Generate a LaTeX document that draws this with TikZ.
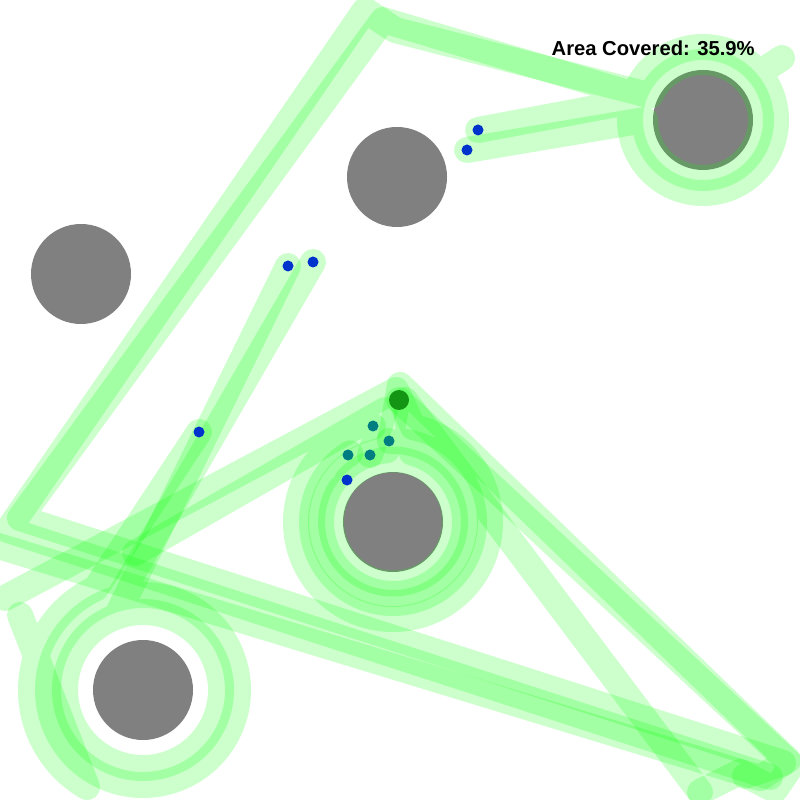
\documentclass[tikz,border=0pt]{standalone}
\usepackage{fontspec}
\setsansfont{Liberation Sans}
\usepackage{tikz}
\usetikzlibrary{calc}
\definecolor{trailgreen}{RGB}{0,255,0}
\definecolor{obstgray}{RGB}{128,128,128}
\definecolor{botblue}{RGB}{0,51,204}
\definecolor{botteal}{RGB}{0,125,128}
\definecolor{botgreen}{RGB}{20,150,20}

\begin{document}
\begin{tikzpicture}[x=0.1mm,y=-0.1mm]
\tikzstyle{trail}=[line width=2.6mm, draw=trailgreen, draw opacity=0.2, line cap=round, line join=round]
\tikzstyle{obst}=[fill=obstgray]
\tikzstyle{bot}=[fill=botblue]
\tikzstyle{botb}=[fill=botteal]
\tikzstyle{lead}=[fill=botgreen]
\tikzstyle{label}=[anchor=base west, inner sep=0, font=\sffamily\bfseries\fontsize{5.75}{7}\selectfont]

  \clip (0,0) rectangle (800,800);
  \fill[white] (0,0) rectangle (800,800);

  % obstacles
  \coordinate (o1) at (81,274);
  \coordinate (o2) at (397,177);
  \coordinate (o3) at (703,120);
  \coordinate (o4) at (393,522);
  \coordinate (o5) at (143,690);
  \foreach \o in {o1,o2,o3,o4,o5}
    \fill[obst] (\o) circle[radius=50];

  % robots
  \coordinate (r1)  at (478,130);
  \coordinate (r2)  at (467,150);
  \coordinate (r3)  at (288,266);
  \coordinate (r4)  at (313,262);
  \coordinate (r5)  at (199,432);
  \coordinate (r6)  at (399,400);
  \coordinate (r7)  at (373,426);
  \coordinate (r8)  at (389,441);
  \coordinate (r9)  at (348,455);
  \coordinate (r10) at (370,455);
  \coordinate (r11) at (347,480);

  % trails
  \draw[trail] (745,776) -- (783,763) -- (20,518) -- (383,20)
               -- ($(o3)+(200:73)$) arc[start angle=200, end angle=320, radius=73]
               -- (782,58) -- ($(o3)+(320:73)$) arc[start angle=320, end angle=555, radius=73] -- (r1);
  \draw[trail] (770,777) -- (8,530) -- (365,10) -- (395,30)
               -- ($(o3)+(205:58)$) arc[start angle=205, end angle=540, radius=58] -- (r2);
  \draw[trail] (r3) -- ($(o5)+(250:78)$) arc[start angle=250, delta angle=360, radius=78];
  \draw[trail] (r4) -- ($(o5)+(255:95)$) arc[start angle=255, delta angle=-360, radius=95];
  \draw[trail] (r5) -- ($(o5)+(245:112)$) arc[start angle=245, end angle=120, radius=112] -- (20,615);
  \draw[trail] (700,792) -- (740,772) -- (775,790) -- (792,765) -- (r6);
  \draw[trail] (5,598) -- (396,390)
               -- ($(o4)+(282:97)$) arc[start angle=282, delta angle=336, radius=97] -- (r7);
  \draw[trail] (700,792) -- (405,400)
               -- ($(o4)+(285:72)$) arc[start angle=285, delta angle=340, radius=72] -- (r8);
  \draw[trail] (-5,545) -- (760,778) -- (788,760) -- (400,385)
               -- ($(o4)+(268:81)$) arc[start angle=268, delta angle=330, radius=81] -- (r9);
  \draw[trail] (135,553) -- (385,410) -- (r10);
  \draw[trail] (r11) arc[start angle=222, delta angle=350, radius=62];

  % robot markers
  \foreach \r in {r1,r2,r3,r4,r5,r11}
    \fill[bot] (\r) circle[radius=5.5];
  \foreach \r in {r7,r8,r9,r10}
    \fill[botb] (\r) circle[radius=5.5];
  \fill[lead] (r6) circle[radius=10];

  \node[label] (cov) at (551,56) {Area Covered: 35.9\%};

\end{tikzpicture}
\end{document}
